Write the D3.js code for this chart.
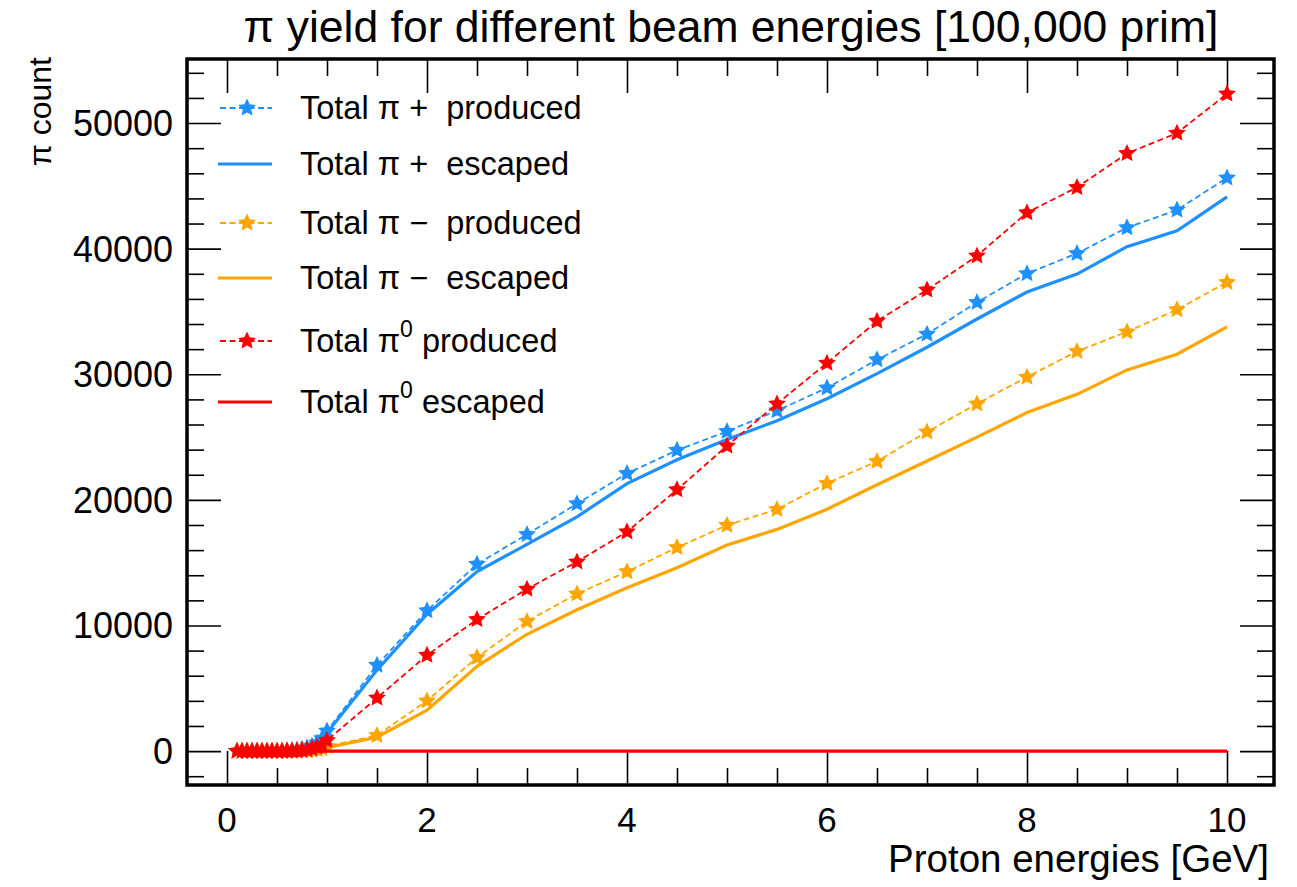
<!DOCTYPE html>
<html>
<head>
<meta charset="utf-8">
<script src="https://cdn.jsdelivr.net/npm/d3@7"></script>
<style>
    body { margin: 0; background: #fff; }
    text { font-family: 'Liberation Sans', Arial, Helvetica, sans-serif; fill: #000; }
</style>
</head>
<body>
<svg id="chart" width="1297" height="887"></svg>
<script>
const energies = [
    0.1, 0.15, 0.2, 0.25, 0.3, 0.35, 0.4, 0.45, 0.5, 0.55, 0.6, 0.65, 0.7, 0.75, 0.8, 0.85, 0.9, 0.95, 1.0,
    1.5, 2.0, 2.5, 3.0, 3.5, 4.0, 4.5, 5.0, 5.5, 6.0, 6.5, 7.0, 7.5, 8.0, 8.5, 9.0, 9.5, 10.0
]

const piPlusProduced = [
    0, 0, 0, 0, 0, 0, 0, 0, 0, 10, 25, 50, 90, 150, 250, 400, 650, 1000, 1600,
    6840, 11180, 14880, 17250, 19700, 22100, 23950, 25450, 27100, 28920, 31160, 33200, 35730, 38020, 39620, 41670, 43080, 45640
]
const piPlusEscaped = [
    0, 0, 0, 0, 0, 0, 0, 0, 0, 8, 20, 45, 80, 135, 225, 360, 590, 900, 1450,
    6450, 10900, 14300, 16450, 18650, 21300, 23200, 24800, 26300, 28050, 30050, 32150, 34400, 36550, 37980, 40160, 41420, 44120
]
const piMinusProduced = [
    0, 0, 0, 0, 0, 0, 0, 0, 0, 0, 0, 0, 5, 10, 30, 60, 110, 200, 380,
    1250, 4000, 7450, 10330, 12520, 14280, 16210, 17980, 19250, 21320, 23070, 25420, 27650, 29780, 31830, 33380, 35150, 37320
]
const piMinusEscaped = [
    0, 0, 0, 0, 0, 0, 0, 0, 0, 0, 0, 0, 3, 8, 22, 45, 85, 150, 280,
    1100, 3260, 6750, 9300, 11250, 13000, 14600, 16400, 17650, 19250, 21200, 23100, 25000, 26950, 28400, 30350, 31600, 33780
]
const piZeroProduced = [
    0, 0, 0, 0, 0, 0, 0, 0, 0, 0, 5, 15, 35, 65, 110, 190, 320, 500, 850,
    4230, 7630, 10480, 12900, 15070, 17460, 20810, 24300, 27650, 30890, 34230, 36710, 39430, 42870, 44880, 47580, 49200, 52320
]
const piZeroEscaped = [
    0, 0, 0, 0, 0, 0, 0, 0, 0, 0, 0, 0, 0, 0, 0, 0, 0, 0, 0,
    0, 0, 0, 0, 0, 0, 0, 0, 0, 0, 0, 0, 0, 0, 0, 0, 0, 0
]

const xMajorTicks = [0, 2, 4, 6, 8, 10]
const yMajorTicks = [0, 10000, 20000, 30000, 40000, 50000]

const series = [
    { label: ['Total π +  produced'], values: piPlusProduced, color: '#1e90ff', dashed: true },
    { label: ['Total π +  escaped'], values: piPlusEscaped, color: '#1e90ff', dashed: false },
    { label: ['Total π −  produced'], values: piMinusProduced, color: '#ffa500', dashed: true },
    { label: ['Total π −  escaped'], values: piMinusEscaped, color: '#ffa500', dashed: false },
    { label: ['Total π', '0', ' produced'], values: piZeroProduced, color: '#ff0000', dashed: true },
    { label: ['Total π', '0', ' escaped'], values: piZeroEscaped, color: '#ff0000', dashed: false }
]

const frame = { left: 187, right: 1274, top: 59, bottom: 785 }
const MAJOR = 34
const MINOR = 17

const svg = d3.select('#chart')

const x = d3.scaleLinear().domain([-0.4, 10.47]).range([frame.left, frame.right])
const y = d3.scaleLinear().domain([-2700, 55100]).range([frame.bottom, frame.top])

const xMinor = d3.range(0, 10.01, 0.5).filter(v => v % 2 !== 0)
const yMinor = d3.range(-2000, 55001, 2000).filter(v => v % 10000 !== 0)

// axes: labels on bottom/left, mirrored ticks on top/right
const tickAxis = (axisGen, scale, values, size, tr) =>
    svg.append('g')
        .attr('transform', tr)
        .call(axisGen(scale).tickValues(values).tickSize(size).tickFormat(''))
        .call(g => g.select('.domain').remove())
        .call(g => g.selectAll('line').attr('stroke', '#000').attr('stroke-width', 1.6))

tickAxis(d3.axisBottom, x, xMajorTicks, -MAJOR, `translate(0,${frame.bottom})`)
tickAxis(d3.axisBottom, x, xMinor, -MINOR, `translate(0,${frame.bottom})`)
tickAxis(d3.axisTop, x, xMajorTicks, -MAJOR, `translate(0,${frame.top})`)
tickAxis(d3.axisTop, x, xMinor, -MINOR, `translate(0,${frame.top})`)
tickAxis(d3.axisLeft, y, yMajorTicks, -MAJOR, `translate(${frame.left},0)`)
tickAxis(d3.axisLeft, y, yMinor, -MINOR, `translate(${frame.left},0)`)
tickAxis(d3.axisRight, y, yMajorTicks, -MAJOR, `translate(${frame.right},0)`)
tickAxis(d3.axisRight, y, yMinor, -MINOR, `translate(${frame.right},0)`)

svg.append('g')
    .selectAll('text')
    .data(xMajorTicks)
    .join('text')
    .attr('x', d => x(d))
    .attr('y', 832)
    .attr('text-anchor', 'middle')
    .style('font-size', '35px')
    .text(d => d)

svg.append('g')
    .selectAll('text')
    .data(yMajorTicks)
    .join('text')
    .attr('x', 173)
    .attr('y', d => y(d) + 13)
    .attr('text-anchor', 'end')
    .style('font-size', '36px')
    .text(d => d)

const line = d3.line()
    .x(d => x(d[0]))
    .y(d => y(d[1]))

// fatter five-point star, closer to the ROOT full-star marker
const fatStar = {
    draw(context, size) {
        const r = Math.sqrt(size / 1.3)
        const ri = r * 0.48
        for (let k = 0; k < 10; k++) {
            const a = -Math.PI / 2 + k * Math.PI / 5
            const rr = k % 2 ? ri : r
            const px = rr * Math.cos(a)
            const py = rr * Math.sin(a)
            if (k === 0) context.moveTo(px, py)
            else context.lineTo(px, py)
        }
        context.closePath()
    }
}
const star = d3.symbol(fatStar, 115)

const plot = svg.append('g')

series.forEach(s => {
    const pts = energies.map((e, i) => [e, s.values[i]])
    plot.append('path')
        .datum(pts)
        .attr('d', line)
        .attr('fill', 'none')
        .attr('stroke', s.color)
        .attr('stroke-width', s.dashed ? 1.8 : 3.2)
        .attr('stroke-dasharray', s.dashed ? '6,3.5' : null)
    if (s.dashed) {
        plot.append('g')
            .selectAll('path')
            .data(pts)
            .join('path')
            .attr('transform', d => `translate(${x(d[0])},${y(d[1])})`)
            .attr('d', star)
            .attr('fill', s.color)
    }
})

svg.append('rect')
    .attr('x', frame.left)
    .attr('y', frame.top)
    .attr('width', frame.right - frame.left)
    .attr('height', frame.bottom - frame.top)
    .attr('fill', 'none')
    .attr('stroke', '#000')
    .attr('stroke-width', 3.5)

// legend
const legendRows = [108, 164, 223, 278, 341, 402]
const legend = svg.append('g')
series.forEach((s, i) => {
    const ry = legendRows[i]
    const row = legend.append('g')
    row.append('line')
        .attr('x1', s.dashed ? 220 : 218)
        .attr('x2', 272)
        .attr('y1', ry)
        .attr('y2', ry)
        .attr('stroke', s.color)
        .attr('stroke-width', s.dashed ? 1.8 : 3.2)
        .attr('stroke-dasharray', s.dashed ? '6,3.5' : null)
    if (s.dashed) {
        row.append('path')
            .attr('transform', `translate(247,${ry})`)
            .attr('d', star)
            .attr('fill', s.color)
    }
    const t = row.append('text')
        .attr('x', 300)
        .attr('y', ry + 11)
        .style('font-size', '32.5px')
        .style('white-space', 'pre')
    t.append('tspan').text(s.label[0])
    if (s.label.length > 1) {
        t.append('tspan').attr('dy', -15).style('font-size', '23px').text(s.label[1])
        t.append('tspan').attr('dy', 15).text(s.label[2])
    }
})

svg.append('text')
    .attr('x', 731)
    .attr('y', 42)
    .attr('text-anchor', 'middle')
    .style('font-size', '44.5px')
    .text('π yield for different beam energies [100,000 prim]')

svg.append('text')
    .attr('transform', 'translate(51,57) rotate(-90)')
    .attr('text-anchor', 'end')
    .style('font-size', '32px')
    .text('π count')

svg.append('text')
    .attr('x', 1269)
    .attr('y', 872)
    .attr('text-anchor', 'end')
    .style('font-size', '38.5px')
    .text('Proton energies [GeV]')
</script>
</body>
</html>
